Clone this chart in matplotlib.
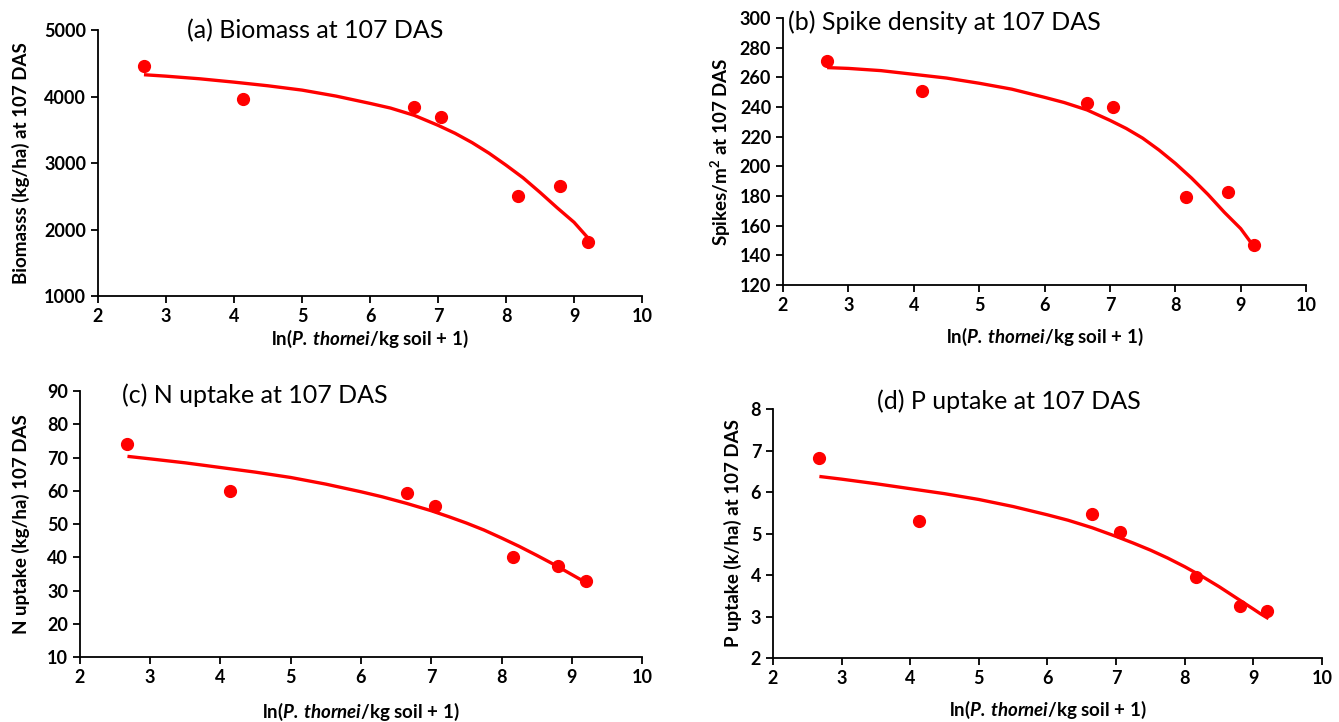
import numpy as np
import matplotlib
matplotlib.use("Agg")
import matplotlib.pyplot as plt

plt.rcParams['font.family'] = ['Lato', 'DejaVu Sans']
plt.rcParams['mathtext.fontset'] = 'custom'
plt.rcParams['mathtext.rm'] = 'Lato:bold'
plt.rcParams['mathtext.it'] = 'Lato:bold:italic'
plt.rcParams['mathtext.bf'] = 'Lato:bold'
plt.rcParams['mathtext.bfit'] = 'Lato:bold:italic'

# observed points (same x for all panels)
x_obs = [2.67, 4.13, 6.65, 7.05, 8.17, 8.80, 9.20]
biomass = [4470, 3970, 3840, 3690, 2510, 2650, 1810]
spikes = [271, 251, 243, 240, 179, 183, 147]
n_uptake = [74.0, 60.0, 59.3, 55.3, 40.1, 37.5, 32.8]
p_uptake = [6.82, 5.31, 5.46, 5.03, 3.95, 3.25, 3.14]

# fitted curves
x_fit = [2.7, 3.0, 3.5, 4.0, 4.5, 5.0, 5.5, 6.0, 6.3, 6.65, 7.0, 7.25,
         7.5, 7.75, 8.0, 8.25, 8.5, 8.75, 9.0, 9.1, 9.2]
biomass_fit = [4330, 4310, 4270, 4220, 4165, 4100, 4010, 3900, 3830, 3720, 3570,
               3450, 3310, 3150, 2970, 2780, 2560, 2330, 2110, 1995, 1880]
spikes_fit = [266.5, 266, 264.5, 262, 259.5, 256, 252, 246.5, 243, 238, 231,
              225.5, 219, 211, 202, 192, 181, 169, 158, 152, 146]
n_fit = [70.3, 69.6, 68.4, 67, 65.6, 64, 62, 59.7, 58.2, 56.2, 54,
         52.2, 50.3, 48.2, 45.8, 43.3, 40.6, 37.8, 34.8, 33.6, 32.5]
p_fit = [6.37, 6.31, 6.2, 6.08, 5.96, 5.82, 5.65, 5.45, 5.32, 5.14, 4.93,
         4.77, 4.6, 4.41, 4.2, 3.97, 3.72, 3.45, 3.18, 3.07, 2.97]

xlabel = r'ln($\mathbfit{P.\,thornei}$/kg soil + 1)'

panels = [
    # rect, y, fit, ylim, ystep, ylabel, title, title pos (axes coords), ha, xpad, ypad
    ([0.0732, 0.590, 0.4063, 0.368], biomass, biomass_fit, (1000, 5000), 1000,
     'Biomasss (kg/ha) at 107 DAS', '(a) Biomass at 107 DAS', (0.40, 1.0), 'center', 2, 10),
    ([0.5848, 0.6053, 0.3906, 0.3698], spikes, spikes_fit, (120, 300), 20,
     r'Spikes/m$^{2}$ at 107 DAS', '(b) Spike density at 107 DAS', (0.01, 0.985), 'left', 9, 5),
    ([0.0597, 0.090, 0.4198, 0.3684], n_uptake, n_fit, (10, 90), 10,
     'N uptake (kg/ha) 107 DAS', '(c) N uptake at 107 DAS', (0.075, 0.985), 'left', 11, 12),
    ([0.5773, 0.0886, 0.4100, 0.3449], p_uptake, p_fit, (2, 8), 1,
     'P uptake (k/ha) at 107 DAS', '(d) P uptake at 107 DAS', (0.43, 1.03), 'center', 9, 6),
]

fig = plt.figure(figsize=(13.39, 7.22), dpi=100)
red = '#ff0000'

for rect, y, yf, ylim, ystep, ylab, title, tpos, ha, xpad, ypad in panels:
    ax = fig.add_axes(rect)
    ax.plot(x_fit, yf, color=red, lw=2.4, zorder=2)
    ax.plot(x_obs, y, 'o', color=red, ms=8.5, zorder=3)
    ax.set_xlim(2, 10)
    ax.set_ylim(*ylim)
    ax.set_xticks(range(2, 11))
    ax.set_yticks(np.arange(ylim[0], ylim[1] + ystep / 2, ystep))
    for s in ['top', 'right']:
        ax.spines[s].set_visible(False)
    for s in ['left', 'bottom']:
        ax.spines[s].set_linewidth(1.3)
    ax.tick_params(direction='out', length=5, width=1.3, labelsize=13)
    for lab in ax.get_xticklabels() + ax.get_yticklabels():
        lab.set_fontweight('bold')
    ax.set_xlabel(xlabel, fontsize=13.5, fontweight='bold', labelpad=xpad)
    ax.set_ylabel(ylab, fontsize=13.5, fontweight='bold', labelpad=ypad)
    ax.text(tpos[0], tpos[1], title, transform=ax.transAxes, fontsize=18,
            ha=ha, va='center')

fig.savefig('out.png', dpi=100)
